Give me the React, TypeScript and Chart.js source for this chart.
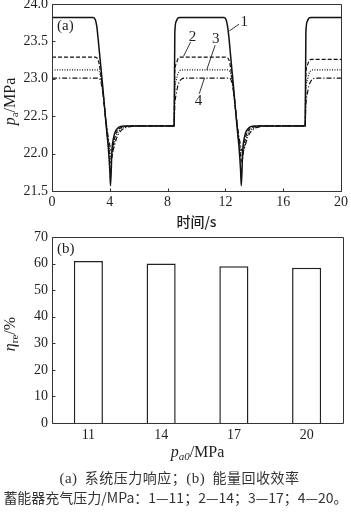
import React, { useEffect, useRef } from 'react';
import { Chart, registerables } from 'chart.js';

Chart.register(...registerables);

// ---------- Data: (a) system pressure response ----------
const TIME = [
  0, 2.85, 3.0, 3.1, 3.2, 3.3, 3.4, 3.5, 3.6, 3.7,
  3.8, 3.9, 4.0, 4.05, 4.15, 4.25, 4.35, 4.5, 4.7, 5.0,
  5.4, 6.0, 8.45, 8.5, 8.6, 8.7, 8.85, 9.0, 9.2, 9.5,
  11.9, 12.05, 12.15, 12.25, 12.35, 12.45, 12.55, 12.65, 12.75, 12.85,
  12.95, 13.05, 13.1, 13.2, 13.3, 13.4, 13.55, 13.75, 14.05, 14.45,
  15.05, 17.52, 17.57, 17.67, 17.77, 17.92, 18.07, 18.27, 18.57, 20,
];

// curve 1: p_a0 = 11 MPa (solid)
const P_11 = [
  23.82, 23.82, 23.79, 23.7, 23.52, 23.32, 23.12, 22.92, 22.7, 22.48,
  22.27, 22.07, 21.78, 21.57, 22.05, 22.2, 22.28, 22.33, 22.36, 22.37,
  22.37, 22.37, 22.37, 23.62, 23.77, 23.81, 23.82, 23.82, 23.82, 23.82,
  23.82, 23.79, 23.7, 23.54, 23.33, 23.12, 22.92, 22.7, 22.48, 22.27,
  22.07, 21.78, 21.57, 22.05, 22.2, 22.28, 22.33, 22.36, 22.37, 22.37,
  22.37, 22.37, 23.62, 23.77, 23.81, 23.82, 23.82, 23.82, 23.82, 23.82,
];

// curve 2: p_a0 = 14 MPa (dashed)
const P_14 = [
  23.29, 23.29, 23.29, 23.28, 23.25, 23.16, 23.02, 22.87, 22.69, 22.49,
  22.3, 22.13, 21.97, 21.88, 21.95, 22.12, 22.22, 22.3, 22.34, 22.36,
  22.37, 22.37, 22.37, 23.1, 23.2, 23.26, 23.29, 23.29, 23.29, 23.29,
  23.29, 23.29, 23.28, 23.25, 23.16, 23.02, 22.87, 22.69, 22.49, 22.3,
  22.13, 21.97, 21.88, 21.95, 22.12, 22.22, 22.3, 22.34, 22.36, 22.37,
  22.37, 22.37, 23.08, 23.18, 23.23, 23.26, 23.26, 23.26, 23.26, 23.26,
];

// curve 3: p_a0 = 17 MPa (dotted)
const P_17 = [
  23.12, 23.12, 23.12, 23.12, 23.11, 23.08, 22.99, 22.86, 22.69, 22.5,
  22.32, 22.16, 22.04, 21.97, 21.98, 22.07, 22.17, 22.26, 22.32, 22.35,
  22.37, 22.37, 22.37, 22.85, 22.98, 23.06, 23.11, 23.12, 23.12, 23.12,
  23.12, 23.12, 23.12, 23.11, 23.08, 22.99, 22.86, 22.69, 22.5, 22.32,
  22.16, 22.04, 21.97, 21.98, 22.07, 22.17, 22.26, 22.32, 22.35, 22.37,
  22.37, 22.37, 22.85, 22.98, 23.06, 23.11, 23.12, 23.12, 23.12, 23.12,
];

// curve 4: p_a0 = 20 MPa (dash-dot)
const P_20 = [
  23.01, 23.01, 23.01, 23.01, 23.01, 23.0, 22.95, 22.84, 22.68, 22.5,
  22.34, 22.21, 22.11, 22.06, 22.03, 22.06, 22.13, 22.22, 22.29, 22.34,
  22.36, 22.37, 22.37, 22.65, 22.8, 22.9, 22.97, 23.0, 23.01, 23.01,
  23.01, 23.01, 23.01, 23.01, 23.0, 22.95, 22.84, 22.68, 22.5, 22.34,
  22.21, 22.11, 22.06, 22.03, 22.06, 22.13, 22.22, 22.29, 22.34, 22.36,
  22.37, 22.37, 22.65, 22.8, 22.9, 22.97, 23.0, 23.01, 23.01, 23.01,
];

const CURVE_LABELS = ['1', '2', '3', '4'];

// ---------- Data: (b) energy recovery efficiency ----------
const BAR_CATEGORIES = ['11', '14', '17', '20'];
const BAR_VALUES = [61, 60, 59, 58.4];

const SERIF = '"Liberation Serif", "Times New Roman", serif';
const CJK = '"Noto Sans CJK SC", "Noto Sans", sans-serif';
const INK = '#1e1e1e';

type Part = { t: string; f: string; dy?: number };

function drawParts(ctx: CanvasRenderingContext2D, parts: Part[], cx: number, cy: number, rotate: boolean) {
  ctx.save();
  ctx.translate(cx, cy);
  if (rotate) ctx.rotate(-Math.PI / 2);
  ctx.fillStyle = INK;
  ctx.textBaseline = 'middle';
  ctx.textAlign = 'left';
  let total = 0;
  parts.forEach((p) => {
    ctx.font = p.f;
    total += ctx.measureText(p.t).width;
  });
  let x = -total / 2;
  parts.forEach((p) => {
    ctx.font = p.f;
    ctx.fillText(p.t, x, p.dy || 0);
    x += ctx.measureText(p.t).width;
  });
  ctx.restore();
}

function drawFrame(chart: any, xTicks: boolean) {
  const { ctx, chartArea: a, scales } = chart;
  ctx.save();
  ctx.strokeStyle = '#333';
  ctx.lineWidth = 1;
  const l = Math.round(a.left) + 0.5;
  const t = Math.round(a.top) + 0.5;
  const r = Math.round(a.right) + 0.5;
  const b = Math.round(a.bottom) + 0.5;
  ctx.beginPath();
  ctx.rect(l, t, r - l, b - t);
  ctx.stroke();
  const ys = scales.y;
  ctx.beginPath();
  ys.ticks.forEach((tk: any) => {
    const py = Math.round(ys.getPixelForValue(tk.value)) + 0.5;
    ctx.moveTo(l, py);
    ctx.lineTo(l + 3, py);
  });
  if (xTicks) {
    const xs = scales.x;
    xs.ticks.forEach((tk: any) => {
      const px = Math.round(xs.getPixelForValue(tk.value)) + 0.5;
      ctx.moveTo(px, b);
      ctx.lineTo(px, b - 3);
    });
  }
  ctx.stroke();
  ctx.restore();
}

const topDecor = {
  id: 'topDecor',
  afterDraw(chart: any) {
    const { ctx, chartArea: a, scales } = chart;
    const xs = scales.x;
    const ys = scales.y;
    drawFrame(chart, true);
    const X = (v: number) => xs.getPixelForValue(v);
    const Y = (v: number) => ys.getPixelForValue(v);
    ctx.save();
    ctx.fillStyle = INK;
    ctx.font = `15px ${SERIF}`;
    ctx.textBaseline = 'middle';
    ctx.textAlign = 'left';
    ctx.fillText('(a)', a.left + 5, a.top + 22);
    ctx.textAlign = 'center';
    // curve labels with leader lines (data coordinates)
    const notes = [
      { lx: 13.3, ly: 23.76, x1: 12.94, y1: 23.73, x2: 12.27, y2: 23.64 },
      { lx: 9.72, ly: 23.56, x1: 9.59, y1: 23.49, x2: 9.1, y2: 23.3 },
      { lx: 11.34, ly: 23.53, x1: 11.29, y1: 23.45, x2: 10.71, y2: 23.12 },
      { lx: 10.14, ly: 22.7, x1: 10.19, y1: 22.8, x2: 10.55, y2: 23.01 },
    ];
    ctx.strokeStyle = INK;
    ctx.lineWidth = 0.9;
    notes.forEach((n, i) => {
      ctx.fillText(CURVE_LABELS[i], X(n.lx), Y(n.ly));
      ctx.beginPath();
      ctx.moveTo(X(n.x1), Y(n.y1));
      ctx.lineTo(X(n.x2), Y(n.y2));
      ctx.stroke();
    });
    ctx.restore();
    const cx = (a.left + a.right) / 2;
    ctx.save();
    ctx.fillStyle = INK;
    ctx.font = `500 14px ${CJK}`;
    ctx.textAlign = 'center';
    ctx.textBaseline = 'middle';
    ctx.fillText('时间/s', cx, a.bottom + 31);
    ctx.restore();
    drawParts(
      ctx,
      [
        { t: 'p', f: `italic 16px ${SERIF}` },
        { t: 'a', f: `11px ${SERIF}`, dy: 4 },
        { t: '/MPa', f: `16px ${SERIF}` },
      ],
      11,
      (a.top + a.bottom) / 2 + 4,
      true,
    );
  },
};

const bottomDecor = {
  id: 'bottomDecor',
  afterDraw(chart: any) {
    const { ctx, chartArea: a } = chart;
    drawFrame(chart, false);
    ctx.save();
    ctx.fillStyle = INK;
    ctx.font = `15px ${SERIF}`;
    ctx.textBaseline = 'middle';
    ctx.textAlign = 'left';
    ctx.fillText('(b)', a.left + 5, a.top + 12);
    ctx.restore();
    drawParts(
      ctx,
      [
        { t: 'η', f: `italic 16px ${SERIF}` },
        { t: 're', f: `11px ${SERIF}`, dy: 4 },
        { t: '/%', f: `16px ${SERIF}` },
      ],
      11,
      (a.top + a.bottom) / 2 + 4,
      true,
    );
    drawParts(
      ctx,
      [
        { t: 'p', f: `italic 16px ${SERIF}` },
        { t: 'a0', f: `italic 11px ${SERIF}`, dy: 4 },
        { t: '/MPa', f: `16px ${SERIF}` },
      ],
      (a.left + a.right) / 2,
      a.bottom + 30,
      false,
    );
  },
};

function TopChart() {
  const ref = useRef<HTMLCanvasElement>(null);
  useEffect(() => {
    const mk = (arr: number[]) => TIME.map((t, i) => ({ x: t, y: arr[i] }));
    const base = {
      borderColor: '#111',
      pointRadius: 0,
      fill: false,
      cubicInterpolationMode: 'monotone' as const,
    };
    const chart = new Chart(ref.current!, {
      type: 'line',
      data: {
        datasets: [
          { ...base, label: '1', data: mk(P_11), borderWidth: 1.5 },
          { ...base, label: '2', data: mk(P_14), borderWidth: 1.2, borderDash: [4, 2] },
          { ...base, label: '3', data: mk(P_17), borderWidth: 1.2, borderDash: [1, 1.5] },
          { ...base, label: '4', data: mk(P_20), borderWidth: 1.2, borderDash: [5, 2, 1.2, 2] },
        ],
      },
      options: {
        animation: false,
        responsive: false,
        maintainAspectRatio: false,
        layout: { padding: { top: 4, right: 8, left: 0, bottom: 0 } },
        plugins: { legend: { display: false }, tooltip: { enabled: false } },
        scales: {
          x: {
            type: 'linear',
            min: 0,
            max: 20,
            grid: { display: false, drawTicks: false },
            border: { display: false },
            ticks: { stepSize: 4, color: INK, padding: 3, font: { family: SERIF, size: 14 }, maxRotation: 0 },
            afterFit: (s: any) => {
              s.height = 41;
            },
          },
          y: {
            min: 21.5,
            max: 24,
            grid: { display: false, drawTicks: false },
            border: { display: false },
            ticks: {
              stepSize: 0.5,
              color: INK,
              padding: 4,
              font: { family: SERIF, size: 14 },
              callback: (v: any) => Number(v).toFixed(1),
            },
            afterFit: (s: any) => {
              s.width = 52;
              s.paddingTop = 0;
              s.paddingBottom = 0;
            },
          },
        },
      },
      plugins: [topDecor],
    });
    return () => chart.destroy();
  }, []);
  return <canvas ref={ref} width={351} height={232} style={{ position: 'absolute', left: 0, top: 0, width: 351, height: 232 }} />;
}

function BottomChart() {
  const ref = useRef<HTMLCanvasElement>(null);
  useEffect(() => {
    const chart = new Chart(ref.current!, {
      type: 'bar',
      data: {
        labels: BAR_CATEGORIES,
        datasets: [
          {
            data: BAR_VALUES,
            backgroundColor: '#ffffff',
            borderColor: '#222',
            borderWidth: 1.5,
            borderSkipped: 'bottom',
            barPercentage: 0.4,
            categoryPercentage: 1,
          },
        ],
      },
      options: {
        animation: false,
        responsive: false,
        maintainAspectRatio: false,
        layout: { padding: { top: 9, right: 8, left: 0, bottom: 0 } },
        plugins: { legend: { display: false }, tooltip: { enabled: false } },
        scales: {
          x: {
            grid: { display: false, drawTicks: false },
            border: { display: false },
            ticks: { color: INK, padding: 4, font: { family: SERIF, size: 14 } },
            afterFit: (s: any) => {
              s.height = 42;
            },
          },
          y: {
            min: 0,
            max: 70,
            grid: { display: false, drawTicks: false },
            border: { display: false },
            ticks: { stepSize: 10, color: INK, padding: 4, font: { family: SERIF, size: 14 } },
            afterFit: (s: any) => {
              s.width = 52;
              s.paddingTop = 0;
              s.paddingBottom = 0;
            },
          },
        },
      },
      plugins: [bottomDecor],
    });
    return () => chart.destroy();
  }, []);
  return <canvas ref={ref} width={351} height={237} style={{ position: 'absolute', left: 0, top: 228, width: 351, height: 237 }} />;
}

export default function App() {
  const cap: React.CSSProperties = {
    position: 'absolute',
    left: 0,
    width: 351,
    textAlign: 'center',
    fontFamily: CJK,
    fontSize: 14,
    color: '#333',
    whiteSpace: 'pre',
    lineHeight: '18px',
  };
  const latin: React.CSSProperties = { fontFamily: SERIF, fontSize: 15 };
  return (
    <div style={{ position: 'absolute', left: 0, top: 0, width: 351, height: 515, background: '#fff', overflow: 'hidden' }}>
      <TopChart />
      <BottomChart />
      <div style={{ ...cap, top: 468, left: 4, letterSpacing: 0.5 }}>
        <span style={latin}>(a)</span>{'  '}系统压力响应；<span style={latin}>(b)</span>{'  '}能量回收效率
      </div>
      <div style={{ ...cap, top: 488 }}>蓄能器充气压力/MPa：1—11；2—14；3—17；4—20。</div>
    </div>
  );
}
